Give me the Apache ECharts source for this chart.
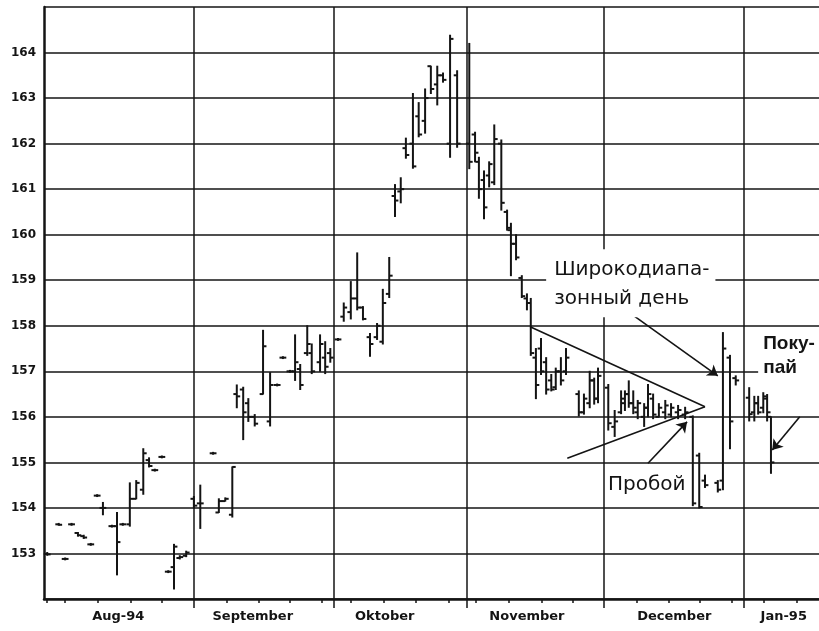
<!DOCTYPE html>
<html><head><meta charset="utf-8">
<script src="https://cdn.jsdelivr.net/npm/echarts@6/dist/echarts.min.js"></script>
<style>html,body{margin:0;padding:0;background:#fff}#c{width:819px;height:631px}</style>
</head><body><div id="c"></div>
<script>
// position of each bar in trading days since 1 Aug 1994
const dayPos = [0.5,2.3,3.3,4.3,5.3,6.2,7.3,8.3,9.2,10.6,11.4,12.3,13.4,14.4,15.5,16.4,17.3,18.4,19.4,20.3,21.2,22.2,
 23.4,24.4,26.4,27.3,28.3,29.4,30.1,31.1,31.9,32.9,34.2,35.3,36.4,37.3,38.4,39.2,40.0,41.1,41.8,43.1,43.9,44.7,
 45.9,46.8,47.9,48.9,49.8,50.9,52.0,52.9,53.9,54.8,55.7,56.5,57.6,58.5,59.5,60.4,61.4,62.3,63.4,64.5,
 66.4,67.3,67.9,68.7,69.5,70.3,71.4,72.3,72.9,73.7,74.6,75.4,76.0,76.8,77.6,78.4,79.2,79.9,80.7,81.5,83.5,84.3,85.2,85.9,86.5,
 88.1,89.1,90.1,90.7,91.3,92.0,92.7,93.7,94.3,95.1,96.0,97.0,97.9,99.0,100.1,101.3,102.3,103.2,105.2,106.0,107.1,108.0,
 110.1,110.9,111.5,112.3,112.9,113.5];
const openVals = [152.99,153.64,152.88,153.64,153.45,153.38,153.2,154.27,154.0,153.6,153.6,153.64,153.64,154.2,154.4,155.05,154.83,155.12,152.6,152.7,152.9,152.95,
 154.2,154.1,155.2,153.9,154.15,153.85,156.5,156.6,156.3,156.0,156.5,155.9,156.7,157.3,157.0,157.0,157.05,157.4,157.4,157.2,157.3,157.4,
 157.7,158.2,158.3,158.6,158.4,157.75,157.75,157.65,158.7,160.85,160.95,161.9,162.0,162.6,162.5,163.7,163.3,163.5,162.0,163.5,
 162.0,162.2,161.6,161.2,161.3,161.15,162.0,160.5,160.1,159.8,159.05,158.6,158.5,157.3,157.5,157.2,156.8,156.65,157.0,157.0,156.5,156.1,156.3,156.8,156.4,
 156.64,155.78,156.1,156.3,156.5,156.3,156.1,156.0,156.2,156.4,156.0,156.1,156.05,156.1,156.05,156.0,155.15,154.6,154.55,154.6,157.3,156.85,
 156.42,156.1,156.3,156.2,156.4,156.0];
const highVals = [153.02,153.66,152.9,153.66,153.46,153.4,153.22,154.29,154.12,153.62,153.9,153.66,154.55,154.6,155.3,155.1,154.85,155.14,152.62,153.2,152.95,153.05,
 154.25,154.5,155.22,154.2,154.22,154.9,156.7,156.65,156.4,156.05,157.9,156.97,156.72,157.32,157.02,157.8,157.15,158.0,157.6,157.8,157.65,157.5,
 157.72,158.5,158.97,159.6,158.42,157.83,158.05,158.8,159.5,161.1,161.25,162.12,163.1,162.9,163.2,163.7,163.7,163.55,164.38,163.6,
 164.2,162.25,161.7,161.4,161.6,162.41,162.08,160.54,160.25,160.0,159.1,158.7,158.6,157.5,157.72,157.3,156.93,157.07,157.3,157.5,156.57,156.5,157.0,156.85,157.07,
 156.71,156.14,156.57,156.57,156.79,156.57,156.36,156.29,156.71,156.5,156.29,156.36,156.29,156.25,156.21,156.02,155.2,154.72,154.6,157.85,157.35,156.9,
 156.64,156.45,156.45,156.53,156.49,156.0];
const lowVals = [152.96,153.62,152.86,153.62,153.38,153.33,153.18,154.25,153.85,153.58,152.53,153.62,153.6,154.2,154.3,154.9,154.81,155.1,152.58,152.22,152.88,152.93,
 154.0,153.55,155.18,153.9,154.15,153.8,156.2,155.5,155.9,155.8,156.5,155.8,156.68,157.28,156.98,156.8,156.6,157.35,156.95,157.0,156.95,157.2,
 157.68,158.1,158.15,158.35,158.13,157.33,157.7,157.6,158.62,160.4,160.7,161.68,161.46,162.15,162.23,163.1,162.85,163.35,161.7,161.92,
 161.45,161.6,160.8,160.35,161.05,161.1,160.54,160.1,159.1,159.45,158.62,158.35,157.35,156.4,156.93,156.5,156.57,156.6,156.7,156.93,156.02,156.06,156.2,156.28,156.31,
 155.71,155.57,156.07,156.14,156.21,156.07,155.96,155.79,156.0,155.96,156.0,155.96,156.0,155.96,155.96,154.05,154.0,154.45,154.35,154.4,155.3,156.7,
 155.91,155.91,156.06,156.09,155.91,154.76];
const closeVals = [152.98,153.63,152.88,153.64,153.4,153.35,153.2,154.27,154.0,153.6,153.25,153.64,154.2,154.55,155.2,154.92,154.83,155.12,152.6,153.15,152.92,153.02,
 154.05,154.1,155.2,154.15,154.2,154.9,156.45,156.1,156.0,155.85,157.55,156.7,156.7,157.3,157.0,157.2,156.7,157.6,157.0,157.6,157.1,157.3,
 157.7,158.4,158.6,158.4,158.15,157.6,158.0,158.5,159.1,160.75,161.0,161.75,161.5,162.2,163.0,163.2,163.5,163.4,164.3,162.0,
 161.6,161.8,161.0,160.6,161.55,162.1,160.7,160.15,159.8,159.5,158.65,158.5,157.4,156.7,157.0,156.6,156.6,157.0,156.8,157.3,156.1,156.4,156.8,156.4,156.9,
 155.86,155.9,156.4,156.5,156.3,156.2,156.3,156.2,156.5,156.05,156.2,156.25,156.2,156.15,156.1,154.1,154.02,154.5,154.4,157.5,155.9,156.8,
 156.06,156.3,156.1,156.45,156.1,155.0];

const monthStarts = [23.4, 45.3, 66.0, 87.4, 109.3];
const weekTicks = [0.5,3.3,8.4,13.5,18.4,28.5,33.5,38.4,43.4,47.9,53.1,58.1,63.2,67.4,72.6,77.7,82.6,92.6,97.5,102.4,107.3,112.3,117.5];
const monthLabels = ['Aug-94','September','Oktober','November','December','Jan-95'];
const monthLabelPos = [11.6, 32.6, 53.2, 75.4, 98.4, 115.5];
const yTicks = [153,154,155,156,157,158,159,160,161,162,163,164];

// annotations (data coordinates)
const triUpper = [[75.9, 157.98], [103.2, 156.22]];
const triLower = [[81.7, 155.09], [103.2, 156.22]];
const arrowWide = [[92.0, 158.23], [105.2, 156.9]];
const arrowBreak = [[94.3, 154.98], [100.4, 155.89]];
const arrowBuy = [[118.0, 156.0], [113.7, 155.27]];
const noteWide = {text: 'Широкодиапа-\nзонный день', at: [78.4, 159.68]};
const noteBreak = {text: 'Пробой', at: [94.1, 154.5]};
const noteBuy = {text: 'Поку-\nпай', at: [111.5, 157.93]};

const ohlc = dayPos.map((d, i) => [d, openVals[i], highVals[i], lowVals[i], closeVals[i]]);

const ink = '#141414';
const chart = echarts.init(document.getElementById('c'), null, {renderer: 'canvas'});
const xBase = {type: 'value', min: 0, max: 121, position: 'bottom'};
chart.setOption({
  animation: false,
  backgroundColor: '#ffffff',
  grid: {left: 44, right: 0, top: 7, bottom: 32, containLabel: false},
  xAxis: [
    Object.assign({}, xBase, {
      axisLine: {show: true, onZero: false, lineStyle: {color: ink, width: 2.5}},
      axisTick: {show: true, customValues: weekTicks, length: 4, lineStyle: {color: ink, width: 1.5}},
      axisLabel: {show: true, customValues: monthLabelPos, margin: 11,
        formatter: v => { let k = 0, b = 1e9; monthLabelPos.forEach((p, j) => { if (Math.abs(p - v) < b) { b = Math.abs(p - v); k = j; } }); return monthLabels[k]; },
        color: ink, fontFamily: 'DejaVu Sans', fontWeight: 'bold', fontSize: 13},
      splitLine: {show: false}
    }),
    Object.assign({}, xBase, {
      axisLine: {show: false, onZero: false},
      axisTick: {show: true, customValues: monthStarts, length: 9, lineStyle: {color: ink, width: 1.5}},
      axisLabel: {show: false},
      splitLine: {show: true, lineStyle: {color: ink, width: 1.5}}
    })
  ],
  yAxis: {
    type: 'value', min: 152, max: 165, interval: 1,
    axisLine: {show: true, lineStyle: {color: ink, width: 2.5}},
    axisTick: {show: false},
    axisLabel: {color: ink, fontFamily: 'DejaVu Sans', fontWeight: 'bold', fontSize: 12, margin: 8,
      formatter: v => (yTicks.indexOf(v) >= 0 ? String(v) : '')},
    splitLine: {show: true, lineStyle: {color: ink, width: 1.5}}
  },
  series: [
    {
      type: 'custom', xAxisIndex: 0, yAxisIndex: 0, data: ohlc, z: 5,
      renderItem: (params, api) => {
        const x = api.value(0);
        const o = api.coord([x, api.value(1)]);
        const h = api.coord([x, api.value(2)]);
        const l = api.coord([x, api.value(3)]);
        const c = api.coord([x, api.value(4)]);
        const t = 3.4;
        const st = {stroke: ink, lineWidth: 2};
        return {type: 'group', children: [
          {type: 'line', shape: {x1: h[0], y1: h[1] - 0.5, x2: l[0], y2: l[1] + 0.5}, style: st},
          {type: 'line', shape: {x1: o[0] - t, y1: o[1], x2: o[0], y2: o[1]}, style: st},
          {type: 'line', shape: {x1: c[0], y1: c[1], x2: c[0] + t, y2: c[1]}, style: st}
        ]};
      }
    },
    {
      type: 'lines', coordinateSystem: 'cartesian2d', xAxisIndex: 0, yAxisIndex: 0, z: 6,
      symbol: ['none', 'none'],
      lineStyle: {color: ink, width: 1.6, opacity: 1},
      data: [{coords: triUpper}, {coords: triLower}]
    },
    {
      type: 'lines', coordinateSystem: 'cartesian2d', xAxisIndex: 0, yAxisIndex: 0, z: 6,
      symbol: ['none', 'arrow'], symbolSize: 10,
      lineStyle: {color: ink, width: 1.6, opacity: 1},
      data: [{coords: arrowWide}, {coords: arrowBreak}, {coords: arrowBuy}]
    }
  ]
});

function px(p) { return chart.convertToPixel({xAxisIndex: 0, yAxisIndex: 0}, p); }
const pW = px(noteWide.at), pB = px(noteBreak.at), pY = px(noteBuy.at);
chart.setOption({
  graphic: [
    {type: 'text', x: pW[0], y: pW[1], z: 10,
      style: {text: noteWide.text, font: '20px "DejaVu Sans"', fill: ink, lineHeight: 29,
        backgroundColor: '#fff', padding: [6, 6, 4, 8]}},
    {type: 'text', x: pB[0], y: pB[1], z: 10,
      style: {text: noteBreak.text, font: '20px "DejaVu Sans"', fill: ink, align: 'center', verticalAlign: 'middle'}},
    {type: 'text', x: pY[0], y: pY[1], z: 10,
      style: {text: noteBuy.text, font: 'bold 19px "Liberation Sans"', fill: ink, lineHeight: 24,
        backgroundColor: '#fff', padding: [3, 20, 3, 5]}}
  ]
});
</script>
</body></html>
